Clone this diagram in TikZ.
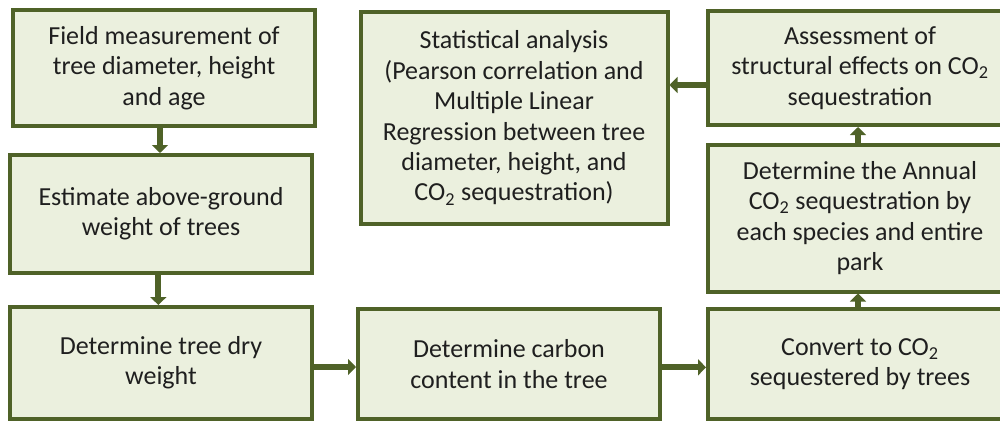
\documentclass[tikz,border=0pt]{standalone}
\usepackage{fontspec}
\setmainfont{Carlito}
\usetikzlibrary{arrows.meta}

\definecolor{boxFill}{HTML}{EBF0DE}
\definecolor{boxLine}{HTML}{4F6228}
\definecolor{boxText}{HTML}{1F1F1F}

\tikzset{
    box/.style={draw=boxLine, fill=boxFill, line width=3pt, text=boxText,
        align=center, inner sep=0pt, font=\fontsize{19.5}{22.8}\selectfont},
    flowArrow/.style={draw=boxLine, line width=4.5pt,
        -{Triangle[width=12pt,length=6pt]}}
}

\begin{document}
\begin{tikzpicture}[x=0.75pt, y=-0.75pt]
        \useasboundingbox (0,0) rectangle (1000,421);
        % left column
        \node[box, minimum width=226.5pt, minimum height=87pt] (fieldMeasure) at (164,68) {Field measurement of\\tree diameter, height\\and age};
        \node[box, minimum width=226.5pt, minimum height=88.5pt] (aboveGround) at (161,214) {Estimate above-ground\\weight of trees};
        \node[box, minimum width=226.5pt, minimum height=84pt] (dryWeight) at (161,363) {Determine tree dry\\weight};
        % bottom row
        \node[box, minimum width=226.5pt, minimum height=82.5pt] (carbonContent) at (509,364) {Determine carbon\\content in the tree};
        \node[box, minimum width=228pt, minimum height=82.5pt] (convertCO) at (860,364) {Convert to CO\textsubscript{2}\\sequestered by trees};
        % right column
        \node[box, minimum width=228pt, minimum height=110.25pt] (annualCO) at (860,218) {Determine the Annual\\CO\textsubscript{2} sequestration by\\each species and entire\\park};
        \node[box, minimum width=228pt, minimum height=85.5pt] (assessment) at (860,68) {Assessment of\\structural effects on CO\textsubscript{2}\\sequestration};
        \node[box, minimum width=230.25pt, minimum height=159pt] (statAnalysis) at (514,118) {Statistical analysis\\(Pearson correlation and\\Multiple Linear\\Regression between tree\\diameter, height, and\\CO\textsubscript{2} sequestration)};

        \draw[flowArrow] ([xshift=-3pt]fieldMeasure.south) -- ([xshift=-3pt]fieldMeasure.south |- aboveGround.north);
        \draw[flowArrow] ([xshift=-2pt]aboveGround.south) -- ([xshift=-2pt]aboveGround.south |- dryWeight.north);
        \draw[flowArrow] ([yshift=-3pt]dryWeight.east) -- ([yshift=-3pt]dryWeight.east -| carbonContent.west);
        \draw[flowArrow] ([yshift=-2.5pt]carbonContent.east) -- ([yshift=-2.5pt]carbonContent.east -| convertCO.west);
        \draw[flowArrow] ([xshift=-1.5pt]convertCO.north) -- ([xshift=-1.5pt]convertCO.north |- annualCO.south);
        \draw[flowArrow] ([xshift=-1.5pt]annualCO.north) -- ([xshift=-1.5pt]annualCO.north |- assessment.south);
        \draw[flowArrow] ([yshift=-12.75pt]assessment.west) -- ([yshift=-12.75pt]assessment.west -| statAnalysis.east);
    \end{tikzpicture}
\end{document}
